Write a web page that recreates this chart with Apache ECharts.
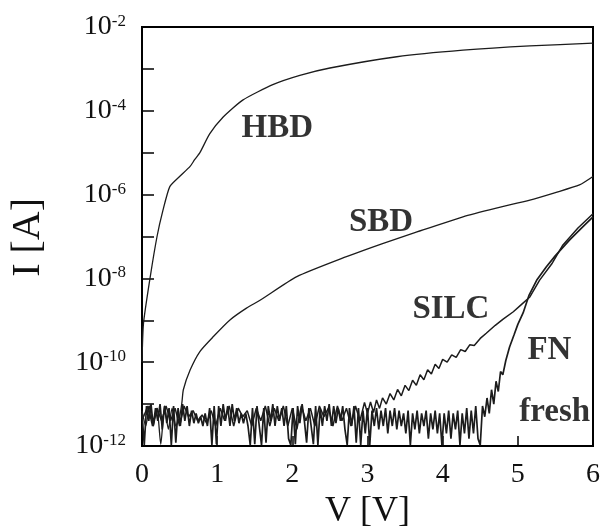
<!DOCTYPE html>
<html>
<head>
<meta charset="utf-8">
<script src="https://cdn.jsdelivr.net/npm/echarts@6/dist/echarts.min.js"></script>
<style>
  html, body { margin: 0; padding: 0; background: #fff; }
  #char1 { width: 600px; height: 527px; }
</style>
</head>
<body>
<div id="char1"></div>
<script>
// I-V curves, values in A, V in volts
var hbd = [[0, 1e-10], [0.02, 8.5e-10], [0.11, 1.1e-8], [0.2, 1e-7], [0.28, 4.3e-7], [0.37, 1.55e-6],
  [0.5, 2.7e-6], [0.64, 4.7e-6], [0.7, 6.8e-6], [0.77, 1e-5], [0.9, 2.8e-5], [1.08, 7.1e-5],
  [1.34, 1.8e-4], [1.74, 4.2e-4], [2.1, 7e-4], [2.5, 1.05e-3], [3.39, 1.95e-3], [4.27, 2.8e-3],
  [5.16, 3.55e-3], [6.0, 4.1e-3]];

var sbd = [[0, 7e-12], [0.05, 3e-12], [0.1, 9e-12], [0.15, 3e-12], [0.2, 8e-12], [0.25, 1.1e-12],
  [0.3, 9e-12], [0.35, 2.5e-12], [0.4, 8e-12], [0.45, 3e-12], [0.5, 5e-12], [0.53, 1.05e-11],
  [0.55, 2.2e-11], [0.64, 6.5e-11], [0.77, 1.8e-10], [0.95, 4.1e-10], [1.17, 1.02e-9], [1.39, 1.95e-9],
  [1.57, 3e-9], [2.06, 1.1e-8], [2.72, 3.3e-8], [3.2, 6.8e-8], [3.61, 1.2e-7], [4.27, 2.95e-7],
  [4.7, 4.7e-7], [5.16, 7.4e-7], [5.5, 1.12e-6], [5.82, 1.7e-6], [6.0, 2.7e-6]];

var silc = [[0.02, 5e-12], [0.08, 9e-12], [0.14, 3e-12], [0.2, 8e-12], [0.26, 4e-12], [0.32, 9e-12],
  [0.38, 4e-12], [0.44, 8e-12], [0.5, 3e-12], [0.56, 9e-12], [0.62, 5e-12], [0.68, 7e-12],
  [0.74, 4e-12], [0.8, 5.5e-12], [0.86, 3.5e-12], [0.92, 7e-12], [0.98, 3e-12], [1.04, 8e-12],
  [1.1, 4e-12], [1.16, 9e-12], [1.22, 3e-12], [1.28, 8e-12], [1.34, 5e-12], [1.4, 7e-12],
  [1.46, 3e-12], [1.52, 8e-12], [1.58, 4e-12], [1.64, 9e-12], [1.7, 3e-12], [1.76, 8e-12],
  [1.82, 4e-12], [1.88, 9e-12], [1.94, 3e-12], [2.0, 8e-12], [2.06, 2.5e-12], [2.12, 9e-12],
  [2.18, 4e-12], [2.24, 8e-12], [2.3, 3e-12], [2.36, 9e-12], [2.42, 5e-12], [2.48, 8e-12],
  [2.54, 3e-12], [2.6, 9e-12], [2.66, 4e-12], [2.72, 8e-12], [2.78, 3e-12], [2.84, 9e-12],
  [2.9, 4e-12], [2.96, 1.1e-11], [3.0, 6e-12], [3.04, 1.12e-11], [3.08, 6.3e-12], [3.12, 1.26e-11],
  [3.16, 7.9e-12], [3.2, 1.41e-11], [3.25, 1e-11], [3.3, 1.78e-11], [3.35, 1.26e-11], [3.4, 2.24e-11],
  [3.45, 1.58e-11], [3.5, 2.8e-11], [3.55, 2.1e-11], [3.6, 3.7e-11], [3.65, 2.8e-11], [3.7, 5e-11],
  [3.75, 3.8e-11], [3.8, 6.6e-11], [3.85, 5.2e-11], [3.9, 8.9e-11], [3.95, 7.1e-11], [4.0, 1.17e-10],
  [4.06, 1e-10], [4.12, 1.5e-10], [4.18, 1.3e-10], [4.24, 2e-10], [4.3, 1.8e-10], [4.36, 2.6e-10],
  [4.42, 2.5e-10], [4.5, 3.7e-10], [4.58, 4.9e-10], [4.7, 7.6e-10], [4.8, 1.05e-9], [4.94, 1.6e-9],
  [5.05, 2.4e-9], [5.16, 3.6e-9], [5.29, 9.1e-9], [5.45, 2.2e-8], [5.6, 6.3e-8], [5.8, 1.6e-7],
  [6.0, 3.5e-7]];

var fresh = [[0, 6e-12], [0.03, 1.05e-12], [0.06, 9e-12], [0.09, 4e-12], [0.12, 1e-11], [0.15, 3e-12],
  [0.18, 8e-12], [0.21, 4e-12], [0.24, 1e-11], [0.27, 2.5e-12], [0.3, 9e-12], [0.33, 3.5e-12],
  [0.36, 8e-12], [0.39, 1.05e-12], [0.42, 9e-12], [0.45, 1.2e-12], [0.48, 8e-12], [0.51, 3e-12],
  [0.54, 1e-11], [0.57, 4e-12], [0.6, 9e-12], [0.63, 3e-12], [0.66, 7e-12], [0.69, 3.5e-12],
  [0.72, 6e-12], [0.75, 3.5e-12], [0.78, 5e-12], [0.81, 3e-12], [0.84, 6e-12], [0.87, 3e-12],
  [0.9, 8e-12], [0.93, 1.05e-12], [0.96, 9e-12], [0.99, 1.1e-12], [1.02, 9e-12], [1.05, 3e-12],
  [1.08, 1e-11], [1.11, 4e-12], [1.14, 9e-12], [1.17, 3e-12], [1.2, 1e-11], [1.23, 4e-12],
  [1.26, 8e-12], [1.29, 3.5e-12], [1.32, 6e-12], [1.35, 3.5e-12], [1.38, 6e-12], [1.41, 3e-12],
  [1.44, 1.05e-12], [1.47, 8e-12], [1.5, 1.1e-12], [1.53, 9e-12], [1.56, 3e-12], [1.59, 1.05e-12],
  [1.62, 8e-12], [1.65, 1.2e-12], [1.68, 9e-12], [1.71, 4e-12], [1.74, 1e-11], [1.77, 3e-12],
  [1.8, 9e-12], [1.83, 4e-12], [1.86, 8e-12], [1.89, 3e-12], [1.92, 9e-12], [1.95, 1.5e-12],
  [1.98, 1.05e-12], [2.01, 8e-12], [2.04, 1.1e-12], [2.07, 9e-12], [2.1, 3.5e-12], [2.13, 1e-11],
  [2.16, 4e-12], [2.19, 1.2e-12], [2.22, 8e-12], [2.25, 3e-12], [2.28, 1.1e-12], [2.31, 9e-12],
  [2.34, 1.05e-12], [2.37, 8e-12], [2.4, 3e-12], [2.43, 9e-12], [2.46, 4e-12], [2.49, 1e-11],
  [2.52, 3e-12], [2.55, 9e-12], [2.58, 3.5e-12], [2.61, 8e-12], [2.64, 4e-12], [2.67, 9e-12],
  [2.7, 2.5e-12], [2.73, 1.05e-12], [2.76, 8e-12], [2.79, 3e-12], [2.82, 9e-12], [2.85, 1.2e-12],
  [2.88, 8e-12], [2.91, 1.05e-12], [2.94, 7e-12], [2.97, 2e-12], [3.0, 8e-12], [3.03, 1.05e-12],
  [3.06, 7e-12], [3.09, 3e-12], [3.12, 8e-12], [3.15, 2.5e-12], [3.18, 7e-12], [3.21, 3e-12],
  [3.24, 8e-12], [3.27, 2e-12], [3.3, 7e-12], [3.33, 3e-12], [3.36, 8e-12], [3.39, 2.5e-12],
  [3.42, 7e-12], [3.45, 3e-12], [3.48, 6e-12], [3.51, 2e-12], [3.54, 7e-12], [3.57, 1.05e-12],
  [3.6, 6e-12], [3.63, 2.5e-12], [3.66, 7e-12], [3.69, 2e-12], [3.72, 6e-12], [3.75, 3e-12],
  [3.78, 7e-12], [3.81, 1.5e-12], [3.84, 6e-12], [3.87, 2.5e-12], [3.9, 7e-12], [3.93, 2e-12],
  [3.96, 6e-12], [3.99, 1.05e-12], [4.02, 6e-12], [4.05, 2e-12], [4.08, 7e-12], [4.11, 1.5e-12],
  [4.14, 6e-12], [4.17, 2.5e-12], [4.2, 7e-12], [4.23, 1.05e-12], [4.26, 6e-12], [4.29, 2e-12],
  [4.32, 8e-12], [4.35, 1.5e-12], [4.38, 7e-12], [4.41, 2e-12], [4.44, 9e-12], [4.47, 1.5e-12],
  [4.5, 1.05e-12], [4.53, 9e-12], [4.56, 5e-12], [4.59, 1.4e-11], [4.62, 6e-12], [4.65, 2.2e-11],
  [4.68, 1e-11], [4.71, 3.5e-11], [4.74, 2e-11], [4.77, 6e-11], [4.8, 5e-11], [4.84, 1.1e-10],
  [4.89, 2.3e-10], [4.95, 4.5e-10], [5.0, 8e-10], [5.07, 1.5e-9], [5.15, 4e-9], [5.25, 9e-9],
  [5.38, 1.9e-8], [5.5, 3.5e-8], [5.69, 8.3e-8], [5.85, 1.6e-7], [6.0, 2.95e-7]];

// curve labels
var labelNames = ['HBD', 'SBD', 'SILC', 'FN', 'fresh'];
var labelV = [1.80, 3.18, 4.11, 5.42, 5.49];
var labelI = [3.7e-5, 2.2e-7, 1.8e-9, 1.9e-10, 6.3e-12];

var xTicks = [0, 1, 2, 3, 4, 5, 6];

var serif = '"Liberation Serif", "DejaVu Serif", serif';
var lineColor = '#1c1c1c';

function char1() {
    var myChart = echarts.init(document.getElementById('char1'));

    var labelData = [];
    for (var i = 0; i < labelNames.length; i++) {
        labelData.push([labelV[i], labelI[i], labelNames[i]]);
    }

    function curve(data, smooth, width) {
        return {
            type: 'line',
            data: data,
            showSymbol: false,
            symbol: 'none',
            smooth: smooth,
            lineStyle: { color: lineColor, width: width },
            silent: true
        };
    }

    var option = {
        animation: false,
        grid: {
            left: 142, right: 7, top: 27, bottom: 81,
            outerBoundsMode: 'none',
            containLabel: false,
            show: true, borderColor: '#000', borderWidth: 2
        },
        xAxis: {
            type: 'value',
            min: xTicks[0], max: xTicks[xTicks.length - 1], interval: 1,
            name: 'V [V]',
            nameLocation: 'middle',
            nameGap: 44,
            nameTextStyle: { fontFamily: serif, fontSize: 36, color: '#111' },
            axisLine: { show: true, lineStyle: { color: '#000', width: 2 } },
            axisTick: { show: true, inside: true, length: 10, lineStyle: { color: '#000', width: 1.5 } },
            splitLine: { show: false },
            axisLabel: { fontFamily: serif, fontSize: 28, color: '#111', margin: 15 }
        },
        yAxis: {
            type: 'log',
            logBase: 10,
            min: 1e-12, max: 1e-2,
            splitNumber: 10,
            axisLine: { show: true, lineStyle: { color: '#000', width: 2 } },
            axisTick: { show: true, inside: true, length: 12, lineStyle: { color: '#000', width: 1.5 } },
            splitLine: { show: false },
            axisLabel: {
                margin: 16,
                formatter: function (v) {
                    var e = Math.round(Math.log10(v));
                    if (Math.abs(e % 2) === 1) return '';
                    return '{b|10}{s|' + e + '}';
                },
                rich: {
                    b: { fontFamily: serif, fontSize: 28, color: '#111', lineHeight: 28, padding: [8, 0, 8, 0] },
                    s: { fontFamily: serif, fontSize: 17, color: '#111', lineHeight: 17, verticalAlign: 'top' }
                }
            }
        },
        graphic: [{
            type: 'text',
            left: 8, top: 198,
            rotation: Math.PI / 2,
            style: { text: 'I [A]', font: '40px ' + serif, fill: '#111' }
        }],
        series: [
            curve(fresh, false, 1.7),
            curve(silc, false, 1.5),
            curve(sbd, 0.2, 1.3),
            curve(hbd, 0.2, 1.3),
            {
                type: 'scatter',
                data: labelData,
                symbolSize: 0,
                silent: true,
                label: {
                    show: true,
                    position: 'inside',
                    formatter: function (p) { return p.value[2]; },
                    fontFamily: serif,
                    fontWeight: 'bold',
                    fontSize: 33,
                    color: '#000'
                }
            }
        ]
    };

    myChart.setOption(option);
    window.addEventListener('resize', function () { myChart.resize(); });
}

char1();
</script>
</body>
</html>
